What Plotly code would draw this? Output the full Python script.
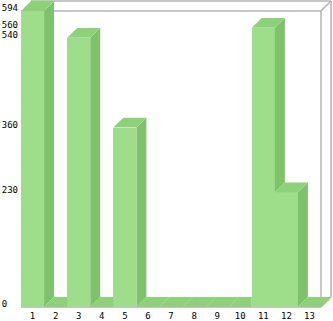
import plotly.graph_objects as go

# ---- data ----
categories = list(range(1, 14))
values = [594, 0, 540, 0, 360, 0, 0, 0, 0, 0, 560, 230, 0]
y_tick_vals = [0, 230, 360, 540, 560, 594]

# ---- style / geometry ----
W, H = 333, 321
L, R, T, B = 21, 1, 0, 9
FRONT = "#9edd89"
SIDE = "#7ec36b"
TOP = "#8dd279"
FRAME = "#b4b4b4"
DEPTH = 10  # px of pseudo-3D depth

plot_w = W - L - R
plot_h = H - T - B
n = len(categories)
px_per_cat = (plot_w - DEPTH - 1) / n
dx = DEPTH / px_per_cat
vmax = max(values)
base_px = 310 - T          # baseline distance from plot top
px_per_unit = (base_px - DEPTH - 1) / vmax
dy = DEPTH / px_per_unit
x_range = [0.5, 0.5 + plot_w / px_per_cat]
y_range = [-(plot_h - base_px) / px_per_unit, base_px / px_per_unit]

fig = go.Figure()

# front faces
fig.add_trace(go.Bar(x=categories, y=values, width=1, marker=dict(color=FRONT, line=dict(width=0)),
                     hoverinfo="skip"))

# side and top faces (computed from the values, drawn in data coordinates)
for i, (c, v) in enumerate(zip(categories, values)):
    vn = values[i + 1] if i + 1 < n else 0
    if v > 0 and vn < v:
        b = max(vn, 0)
        xs = [c + 0.5, c + 0.5 + dx, c + 0.5 + dx, c + 0.5, c + 0.5]
        ys = [b, b + dy, v + dy, v, b]
        fig.add_trace(go.Scatter(x=xs, y=ys, fill="toself", fillcolor=SIDE, mode="lines",
                                 line=dict(width=0, color=SIDE), hoverinfo="skip"))
    if vn > v:
        cc = min(vn, v + dy)
        xs = [c - 0.5, c - 0.5 + dx, c + 0.5 + dx, c + 0.5 + dx * (cc - v) / dy, c + 0.5, c + 0.5, c - 0.5]
        ys = [v, v + dy, v + dy, cc, cc, v, v]
    else:
        xs = [c - 0.5, c - 0.5 + dx, c + 0.5 + dx, c + 0.5, c - 0.5]
        ys = [v, v + dy, v + dy, v, v]
    fig.add_trace(go.Scatter(x=xs, y=ys, fill="toself", fillcolor=TOP, mode="lines",
                             line=dict(width=0, color=TOP), hoverinfo="skip"))

# frame (front and back planes)
x0, x1 = 0.5, n + 0.5
frame = [
    (x0, 0, x0, vmax), (x0, 0, x1, 0), (x0, vmax, x1, vmax), (x1, 0, x1, vmax),
    (x0 + dx, vmax + dy, x1 + dx, vmax + dy), (x1 + dx, dy, x1 + dx, vmax + dy),
    (x1, vmax, x1 + dx, vmax + dy), (x1, 0, x1 + dx, dy),
]
for (ax, ay, bx, by) in frame:
    fig.add_shape(type="line", x0=ax, y0=ay, x1=bx, y1=by, xref="x", yref="y",
                  line=dict(color=FRAME, width=1.5), layer="below")

# left-aligned y labels (padded with non-breaking spaces in a monospace font)
width_chars = max(len(str(v)) for v in y_tick_vals)
y_tick_text = ["\u00a0" * (width_chars - len(str(v))) + str(v) for v in y_tick_vals]
y_tick_text = [str(v) + "\u00a0" * (width_chars - len(str(v))) for v in y_tick_vals]

fig.update_layout(
    width=W, height=H,
    margin=dict(l=L, r=R, t=T, b=B, pad=0),
    paper_bgcolor="white", plot_bgcolor="white",
    showlegend=False,
    bargap=0,
    font=dict(family="DejaVu Sans Mono", size=9, color="black"),
)
fig.update_xaxes(range=x_range, tickvals=categories, ticktext=[str(c) for c in categories],
                 showgrid=False, zeroline=False, showline=False, ticks="",
                 tickfont=dict(size=9), fixedrange=True)
fig.update_yaxes(range=y_range, tickvals=y_tick_vals, ticktext=y_tick_text,
                 showgrid=False, zeroline=False, showline=False, ticks="",
                 tickfont=dict(size=9), ticklabelshift=-3, ticklabelstandoff=2,
                 fixedrange=True)

fig.write_html("out.html")
